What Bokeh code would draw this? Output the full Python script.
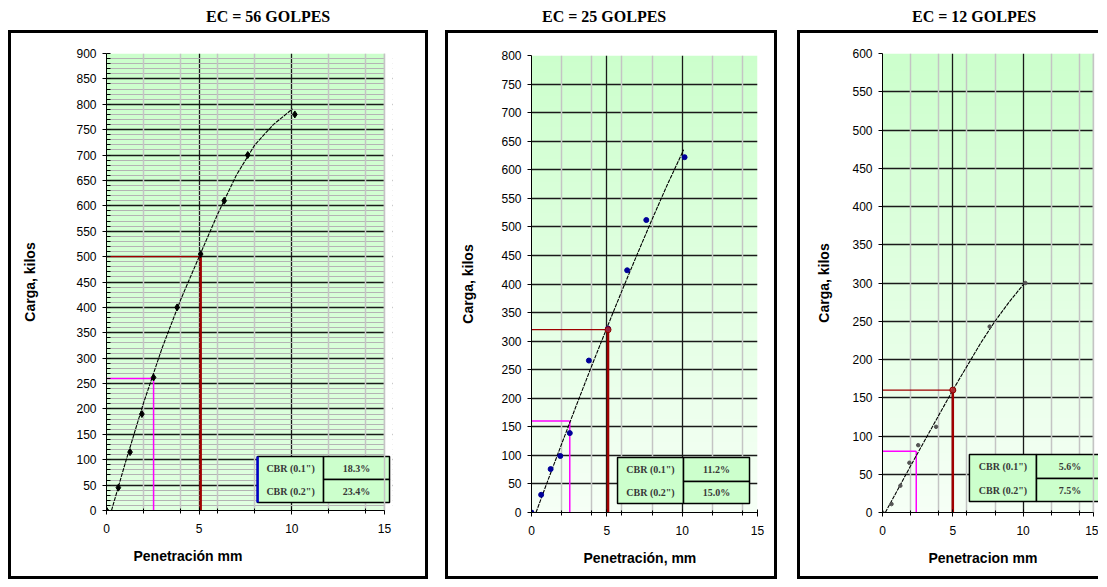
import numpy as np
from bokeh.plotting import figure
from bokeh.models import Range1d, FixedTicker, SingleIntervalTicker, Grid, Title, Div, Spacer, Span
from bokeh.layouts import row, column
from bokeh.embed import file_html
from bokeh.resources import INLINE
from bokeh.core.properties import value

# ---------------- data ----------------
titles = ["EC = 56 GOLPES", "EC = 25 GOLPES", "EC = 12 GOLPES"]
x_labels = ["Penetración mm", "Penetración, mm", "Penetracion mm"]
y_label = "Carga, kilos"
y_max = [900, 800, 600]
x_ticks = [0, 5, 10, 15]

# measured points
pen_56 = [0, 0.64, 1.27, 1.91, 2.54, 3.81, 5.08, 6.35, 7.62, 10.16]
load_56 = [0, 45, 115, 190, 262, 400, 505, 610, 700, 780]
pen_25 = [0, 0.64, 1.27, 1.91, 2.54, 3.81, 5.08, 6.35, 7.62, 10.16]
load_25 = [0, 31, 76, 99, 139, 266, 322, 424, 512, 622]
pen_12 = [0, 0.64, 1.27, 1.91, 2.54, 3.81, 5.08, 7.62, 10.16]
load_12 = [0, 11, 35, 65, 88, 112, 160, 243, 300]

# corrected (trend) curves
curve_56_x = [0.27, 1.0, 2.0, 3.0, 4.0, 5.0, 6.0, 7.0, 8.0, 9.0, 10.04]
curve_56_y = [0, 92, 212, 320, 415, 500, 584, 660, 720, 760, 791]
curve_25_x = [0.3, 1.0, 2.0, 3.0, 4.0, 5.0, 6.0, 7.0, 8.0, 9.0, 10.1]
curve_25_y = [0, 50, 120, 189, 257, 323, 388, 451, 513, 573, 635]
curve_12_x = [0.2, 1.0, 2.0, 3.0, 4.0, 5.0, 6.0, 7.0, 8.0, 9.0, 10.1]
curve_12_y = [0, 27, 61, 94, 127, 160, 191, 222, 250, 275, 300]

# CBR reading lines (0.1" and 0.2")
cbr1_x = [2.54, 2.54, 2.4]
cbr1_y = [260, 160, 80]
cbr2_x = [5.08, 5.08, 5.0]
cbr2_y = [500, 320, 160]

cbr_labels = ['CBR (0.1")', 'CBR (0.2")']
cbr_01 = ["18.3%", "11.2%", "5.6%"]
cbr_02 = ["23.4%", "15.0%", "7.5%"]

points = [(pen_56, load_56), (pen_25, load_25), (pen_12, load_12)]
curves = [(curve_56_x, curve_56_y), (curve_25_x, curve_25_y), (curve_12_x, curve_12_y)]

# ---------------- layout / style ----------------
# canvas is drawn as large as the bordered box, so right/bottom borders get the border widths added
FULL = {"border": "3px solid black", "box-sizing": "content-box"}
OPEN_RIGHT = {"border-top": "3px solid black", "border-left": "3px solid black",
              "border-bottom": "3px solid black", "box-sizing": "content-box"}
panels = [
    dict(w=414, xend=15.43, bl=95, br=39, bt=20, bb=72, ylab_off=35, xlab_off=27, title_pad=198,
         minor=True, grad=((0xcc, 0xff, 0xcc), (0xe0, 0xff, 0xe0)),
         marker="diamond", msize=7, mcolor="black", styles=FULL, bw=6,
         table=(8.15, 11.71, 15.27, 15.8, 61.0, 106.3), blue_edge=True),
    dict(w=326, xend=15.0, bl=83, br=23, bt=22, bb=70, ylab_off=22, xlab_off=52, title_pad=97,
         minor=False, grad=((0xcc, 0xff, 0xcc), (0xf6, 0xff, 0xf6)),
         marker="circle", msize=5, mcolor="#000099", styles=FULL, bw=6,
         table=(5.71, 10.09, 14.47, 15.8, 54.3, 96.3), blue_edge=False),
    dict(w=298, xend=15.36, bl=82, br=3, bt=20, bb=70, ylab_off=17, xlab_off=46, title_pad=115,
         minor=False, grad=((0xcc, 0xff, 0xcc), (0xf6, 0xff, 0xf6)),
         marker="circle", msize=3.5, mcolor="#555555", styles=OPEN_RIGHT, bw=3,
         table=(6.18, 10.95, 15.71, 14.4, 44.4, 75.8), blue_edge=False),
]

H = 543
SANS = "Liberation Sans"
SERIF = "Liberation Serif"


def gradient(top, bot, n=160):
    img = np.empty((n, 1), dtype=np.uint32)
    v = img.view(dtype=np.uint8).reshape((n, 1, 4))
    for i in range(n):
        t = i / (n - 1)
        for c in range(3):
            v[i, 0, c] = int(round(bot[c] + (top[c] - bot[c]) * t))
        v[i, 0, 3] = 255
    return img


def make_panel(i):
    cfg = panels[i]
    ymax = y_max[i]
    p = figure(width=cfg["w"], height=H, output_backend="svg", toolbar_location=None,
               x_range=Range1d(0, cfg["xend"]), y_range=Range1d(0, ymax),
               min_border_left=cfg["bl"], min_border_right=cfg["br"],
               min_border_top=cfg["bt"], min_border_bottom=cfg["bb"],
               background_fill_color="white", border_fill_color="white",
               outline_line_color=None, styles=cfg["styles"])

    # background gradient
    p.image_rgba(image=[gradient(*cfg["grad"])], x=0, y=0, dw=15, dh=ymax, level="image")

    # axes
    xa = p.xaxis[0]
    xa.ticker = FixedTicker(ticks=x_ticks, minor_ticks=[2, 4, 6, 8, 12, 14])
    xa.bounds = (0, 15)
    xa.major_tick_out = 4
    xa.major_tick_in = 3
    xa.minor_tick_out = 3
    xa.minor_tick_in = 2
    xa.major_label_standoff = 9
    xa.major_label_text_font = SANS
    xa.major_label_text_font_size = "12px"
    xa.major_label_text_color = "black"
    xa.axis_line_color = "black"

    ya = p.yaxis[0]
    ya.ticker = SingleIntervalTicker(interval=50, num_minor_ticks=5 if cfg["minor"] else 0)
    ya.major_tick_out = 4
    ya.major_tick_in = 0
    ya.minor_tick_out = 0
    ya.minor_tick_in = 4 if cfg["minor"] else 0
    ya.major_label_standoff = 6
    ya.major_label_text_font = SANS
    ya.major_label_text_font_size = "12px"
    ya.major_label_text_color = "black"
    ya.axis_line_color = "black"
    ya.axis_label = y_label
    ya.axis_label_text_font = SANS
    ya.axis_label_text_font_size = "14px"
    ya.axis_label_text_font_style = "bold"
    ya.axis_label_text_color = "black"
    ya.axis_label_standoff = cfg["ylab_off"]

    # grids
    p.xgrid.ticker = FixedTicker(ticks=[5, 10])
    p.xgrid.grid_line_color = "#1a1a1a"
    p.xgrid.grid_line_width = 1.3
    p.ygrid.ticker = SingleIntervalTicker(interval=50, num_minor_ticks=5 if cfg["minor"] else 0)
    p.ygrid.grid_line_color = "#1a1a1a"
    p.ygrid.grid_line_width = 1.3
    if cfg["minor"]:
        p.ygrid.minor_grid_line_color = "#b4b4b4"
        p.ygrid.minor_grid_line_width = 1
    p.add_layout(Grid(dimension=0, ticker=FixedTicker(ticks=[2, 4, 6, 8, 12, 14, 15]),
                      grid_line_color="#c4c4c4", grid_line_width=1.5))

    # mask any frame area beyond x = 15
    if cfg["xend"] > 15:
        p.quad(left=[15], right=[cfg["xend"]], bottom=[0], top=[ymax],
               fill_color="white", line_color=None)
        p.add_layout(Span(location=15, dimension="height", line_color="#c4c4c4", line_width=1.5))

    # CBR reading lines
    x1, y1 = cbr1_x[i], cbr1_y[i]
    x2, y2 = cbr2_x[i], cbr2_y[i]
    p.segment(x0=[0], y0=[y1], x1=[x1], y1=[y1], line_color="#ff00ff", line_width=1.5)
    p.segment(x0=[x1], y0=[0], x1=[x1], y1=[y1], line_color="#ff00ff", line_width=1.5)
    p.segment(x0=[0], y0=[y2], x1=[x2], y1=[y2], line_color="#a00000", line_width=1.3)
    p.segment(x0=[x2], y0=[0], x1=[x2], y1=[y2], line_color="#a00000", line_width=2.5)

    # trend curve
    cx, cy = curves[i]
    p.line(cx, cy, line_color="black", line_width=1.1, line_dash="4 1")

    # measured points
    px, py = points[i]
    p.scatter(px, py, marker=cfg["marker"], size=cfg["msize"], color=cfg["mcolor"])
    if i > 0:
        p.scatter([x2], [y2], marker="circle", size=6, fill_color="#c0282d",
                  line_color="#8b0000", fill_alpha=0.8)

    # CBR table
    l, m, r, b, mid, t = cfg["table"]
    p.quad(left=[l, m, m], right=[m, r, r], bottom=[b, mid, b], top=[t, t, mid],
           fill_color="#ccffcc", line_color="black", line_width=1.5)
    if cfg["blue_edge"]:
        p.segment(x0=[l], y0=[b], x1=[l], y1=[t], line_color="#0000cc", line_width=2.5)
    cl = (l + m) / 2
    cr = (m + r) / 2
    yt = (mid + t) / 2
    yb = (b + mid) / 2
    p.text(x=[cl, cl, cr, cr], y=[yt, yb, yt, yb],
           text=[cbr_labels[0], cbr_labels[1], cbr_01[i], cbr_02[i]],
           text_font=value(SERIF), text_font_style="bold", text_font_size="10px",
           text_color="#383838", text_align="center", text_baseline="middle")

    # x-axis title
    p.add_layout(Title(text=x_labels[i], align="left", offset=cfg["xlab_off"],
                       text_font=SANS, text_font_size="14px", text_font_style="bold",
                       text_color="black", standoff=21), "below")

    head = Div(text=('<div style="font-family:\'Liberation Serif\';font-weight:bold;'
                     'font-size:16px;line-height:18px;white-space:nowrap;padding-left:%dpx;">%s</div>'
                     % (cfg["title_pad"], titles[i])),
               width=cfg["w"] + cfg["bw"], height=22, margin=0)
    return column(head, p, spacing=0)


c1 = make_panel(0)
c2 = make_panel(1)
c3 = make_panel(2)
layout = column(Spacer(height=8, margin=0),
                row(Spacer(width=8, margin=0), c1, Spacer(width=17, margin=0), c2,
                    Spacer(width=20, margin=0), c3, spacing=0),
                spacing=0)

open("out.html", "w").write(file_html(layout, INLINE))
